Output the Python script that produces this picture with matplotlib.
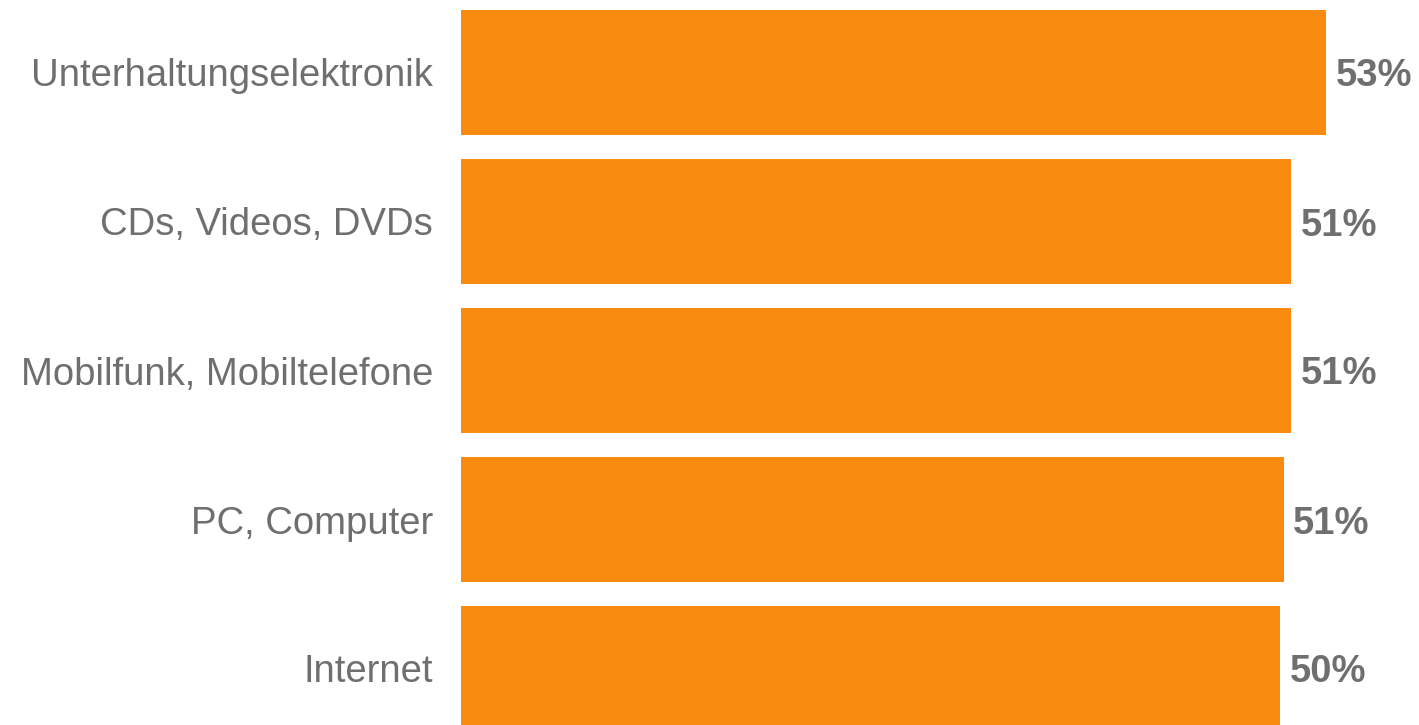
import matplotlib
matplotlib.use("Agg")
import matplotlib.pyplot as plt

categories = [
    "Unterhaltungselektronik",
    "CDs, Videos, DVDs",
    "Mobilfunk, Mobiltelefone",
    "PC, Computer",
    "Internet",
]
values = [53.0, 50.85, 50.85, 50.4, 50.2]
value_labels = ["53%", "51%", "51%", "51%", "50%"]

BAR_COLOR = "#F98C10"
TEXT_COLOR = "#6F6F6F"

plt.rcParams["font.family"] = ["Liberation Sans", "DejaVu Sans"]

W, H = 1419, 725
fig = plt.figure(figsize=(W / 100, H / 100), dpi=100)
fig.patch.set_facecolor("white")
left = 461 / W
ax = fig.add_axes([left, 0, 1 - left, 1])

pos = list(range(len(categories)))
ax.barh(pos, values, height=0.84, color=BAR_COLOR, edgecolor="none")

for p, v, lab in zip(pos, values, value_labels):
    ax.annotate(lab, xy=(v, p), xytext=(7, 0), textcoords="offset points",
                ha="left", va="center_baseline", fontsize=27.5,
                fontweight="bold", color=TEXT_COLOR)

ax.set_yticks(pos)
ax.set_yticklabels(categories, fontsize=27.5, color=TEXT_COLOR)
ax.tick_params(axis="y", length=0, pad=20)
ax.set_xticks([])
ax.set_xlim(0, (W - 461) / 16.32)
ax.set_ylim((H - 72.5) / 149, -72.5 / 149)
for s in ax.spines.values():
    s.set_visible(False)
ax.patch.set_alpha(0)

fig.savefig("out.png", dpi=100)
